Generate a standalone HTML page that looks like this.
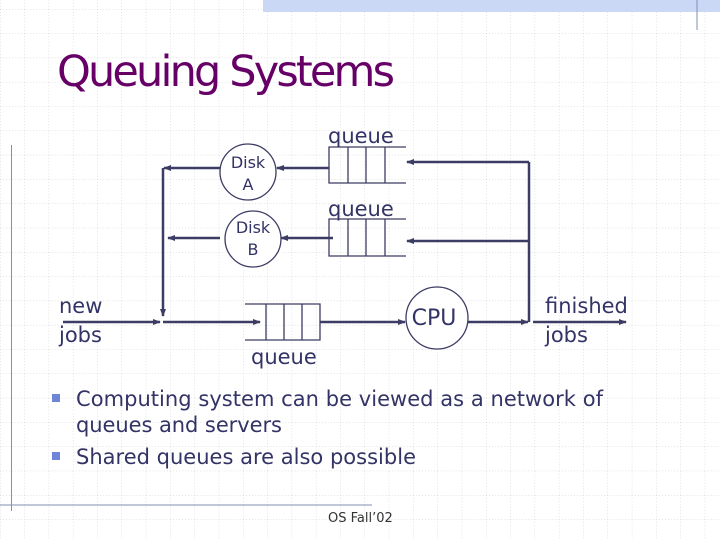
<!DOCTYPE html>
<html><head><style>
body{margin:0;width:720px;height:540px;overflow:hidden;background:#fff;}
svg{display:block}
</style></head><body>
<svg width="720" height="540" xmlns="http://www.w3.org/2000/svg" font-family="'DejaVu Sans','Liberation Sans',sans-serif">
<defs>
<pattern id="g" width="24.3" height="24.3" patternUnits="userSpaceOnUse" x="0" y="9">
<path d="M0 0H24.3M0 0V24.3" stroke="#c8c8c8" stroke-width="1" stroke-dasharray="1 2" fill="none"/>
</pattern>
<marker id="a" markerWidth="8" markerHeight="8" refX="7" refY="4" orient="auto" markerUnits="userSpaceOnUse"><path d="M0 1L8 4L0 7Z" fill="#3c3c64"/></marker>
</defs>
<rect width="720" height="540" fill="url(#g)"/>
<rect x="263" y="0" width="457" height="12" fill="#cad8f6"/>
<line x1="697" y1="0" x2="697" y2="30" stroke="#8090b0"/>
<line x1="11.5" y1="145" x2="11.5" y2="511" stroke="#8090b0"/>
<line x1="0" y1="505" x2="372" y2="505" stroke="#8090b0"/>
<text x="57" y="86" font-size="43" fill="#660066" textLength="338">Queuing Systems</text>
<g stroke="#3c3c64" stroke-width="2.5" fill="none">
<line x1="329" y1="168" x2="277" y2="168" marker-end="url(#a)"/>
<line x1="220" y1="168" x2="164" y2="168" marker-end="url(#a)"/>
<line x1="163" y1="168" x2="163" y2="316" marker-end="url(#a)"/>
<line x1="529" y1="162" x2="407" y2="162" marker-end="url(#a)"/>
<line x1="529" y1="162" x2="529" y2="322"/>
<line x1="333" y1="238" x2="281" y2="238" marker-end="url(#a)"/>
<line x1="220" y1="238" x2="168" y2="238" marker-end="url(#a)"/>
<line x1="529" y1="241" x2="407" y2="241" marker-end="url(#a)"/>
<line x1="63" y1="322" x2="160" y2="322" marker-end="url(#a)"/>
<line x1="163" y1="322" x2="260" y2="322" marker-end="url(#a)"/>
<line x1="320" y1="322" x2="405" y2="322" marker-end="url(#a)"/>
<line x1="468" y1="322" x2="528" y2="322" marker-end="url(#a)"/>
<line x1="533" y1="322" x2="626" y2="322" marker-end="url(#a)"/>
</g>
<g stroke="#3c3c64" stroke-width="1.3" fill="none">
<path d="M406 147H329V183H406M348 147V183M366 147V183M385 147V183"/>
<path d="M406 219H329V256H406M348 219V256M366 219V256M385 219V256"/>
<path d="M245 304H320V340H245M266 304V340M284 304V340M302 304V340"/>
<circle cx="248" cy="172" r="28" fill="#fff"/>
<circle cx="253" cy="239" r="28" fill="#fff"/>
<circle cx="437" cy="318" r="31" fill="#fff"/>
</g>
<g fill="#333366">
<text x="328" y="143" font-size="21">queue</text>
<text x="328" y="216" font-size="21">queue</text>
<text x="251" y="364" font-size="21">queue</text>
<text x="248" y="168" font-size="16" text-anchor="middle">Disk</text>
<text x="248" y="190" font-size="16" text-anchor="middle">A</text>
<text x="253" y="233" font-size="16" text-anchor="middle">Disk</text>
<text x="253" y="255" font-size="16" text-anchor="middle">B</text>
<text x="434" y="325" font-size="22" text-anchor="middle">CPU</text>
<text x="59" y="313" font-size="21">new</text>
<text x="59" y="342" font-size="21">jobs</text>
<text x="545" y="313" font-size="21">finished</text>
<text x="545" y="342" font-size="21">jobs</text>
<rect x="52" y="394" width="8" height="8" fill="#6f86d8"/>
<rect x="52" y="452" width="8" height="8" fill="#6f86d8"/>
<text x="76" y="406" font-size="21" textLength="527">Computing system can be viewed as a network of</text>
<text x="76" y="432" font-size="21" textLength="206">queues and servers</text>
<text x="76" y="464" font-size="21" textLength="340">Shared queues are also possible</text>
<text x="328" y="522" font-size="13" fill="#333">OS Fall’02</text>
</g>
</svg>
</body></html>
